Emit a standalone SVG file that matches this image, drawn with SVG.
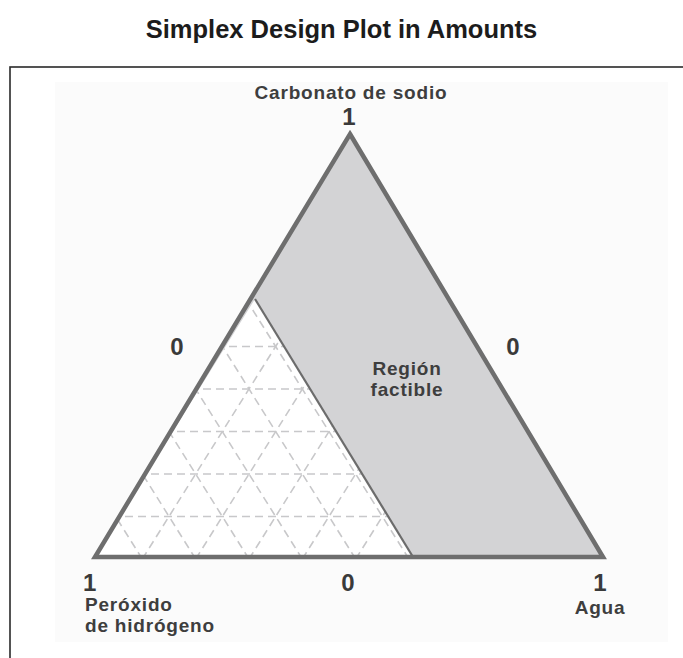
<svg xmlns="http://www.w3.org/2000/svg" width="683" height="658" viewBox="0 0 683 658">
<style>
.title{font-family:"Liberation Sans",Arial,sans-serif;font-weight:bold;font-size:25.5px;fill:#1c1c1c;text-anchor:middle}
.lbl{font-family:"Liberation Sans",Arial,sans-serif;font-weight:bold;font-size:19px;fill:#3e3e3e;letter-spacing:0.8px}
.num{font-family:"Liberation Sans",Arial,sans-serif;font-weight:bold;font-size:24px;fill:#3a3a3a}
.mid{text-anchor:middle}
.grid line{stroke:#c8c8ca;stroke-width:1.6;stroke-dasharray:8 5}
</style>
<defs>
<clipPath id="innerClip"><polygon points="95,557 255,299 413,557"/></clipPath>
</defs>
<rect x="0" y="0" width="683" height="658" fill="#ffffff"/>
<text class="title" x="341.5" y="38">Simplex Design Plot in Amounts</text>
<rect x="10" y="67" width="690" height="610" fill="none" stroke="#2a2a2a" stroke-width="1.6"/>
<rect x="55" y="82" width="613" height="560" fill="#fbfbfb"/>

<g id="feasible-region">
<polygon points="350,134 603,557 95,557" fill="#d3d3d5"/>
</g>
<g id="excluded-region">
<polygon points="95,557 255,299 413,557" fill="#ffffff"/>
<g class="grid" clip-path="url(#innerClip)">
<line x1="60" y1="516.5" x2="460" y2="516.5"/>
<line x1="60" y1="474" x2="460" y2="474"/>
<line x1="60" y1="431.5" x2="460" y2="431.5"/>
<line x1="60" y1="389" x2="460" y2="389"/>
<line x1="60" y1="346.5" x2="460" y2="346.5"/>
<line x1="142.3" y1="559" x2="302.3" y2="304"/>
<line x1="195.7" y1="559" x2="355.7" y2="304"/>
<line x1="249" y1="559" x2="409" y2="304"/>
<line x1="302.3" y1="559" x2="462.3" y2="304"/>
<line x1="355.7" y1="559" x2="515.7" y2="304"/>
<line x1="142.3" y1="559" x2="-17.7" y2="304"/>
<line x1="195.7" y1="559" x2="35.7" y2="304"/>
<line x1="249" y1="559" x2="89" y2="304"/>
<line x1="302.3" y1="559" x2="142.3" y2="304"/>
<line x1="355.7" y1="559" x2="195.7" y2="304"/>
<line x1="409" y1="559" x2="249" y2="304"/>
</g>
<line x1="255" y1="299" x2="413" y2="557" stroke="#6c6c6c" stroke-width="2.2"/>
</g>
<g id="triangle-outline">
<polygon points="350,134 603,557 95,557" fill="none" stroke="#6e6e6e" stroke-width="4.5" stroke-linejoin="miter"/>
</g>

<g id="vertex-carbonato">
<text class="lbl mid" x="351" y="99">Carbonato de sodio</text>
<text class="num mid" x="349" y="125">1</text>
</g>
<g id="vertex-peroxido">
<text class="num" x="83" y="591">1</text>
<text class="lbl" x="85" y="611">Peróxido</text>
<text class="lbl" x="85" y="632">de hidrógeno</text>
</g>
<g id="vertex-agua">
<text class="num mid" x="600" y="591">1</text>
<text class="lbl mid" x="600" y="614">Agua</text>
</g>
<g id="axis-zeros">
<text class="num mid" x="177" y="355">0</text>
<text class="num mid" x="513" y="355">0</text>
<text class="num mid" x="348" y="591">0</text>
</g>
<g id="region-label">
<text class="lbl mid" x="407" y="375">Región</text>
<text class="lbl mid" x="407" y="396">factible</text>
</g>
</svg>
